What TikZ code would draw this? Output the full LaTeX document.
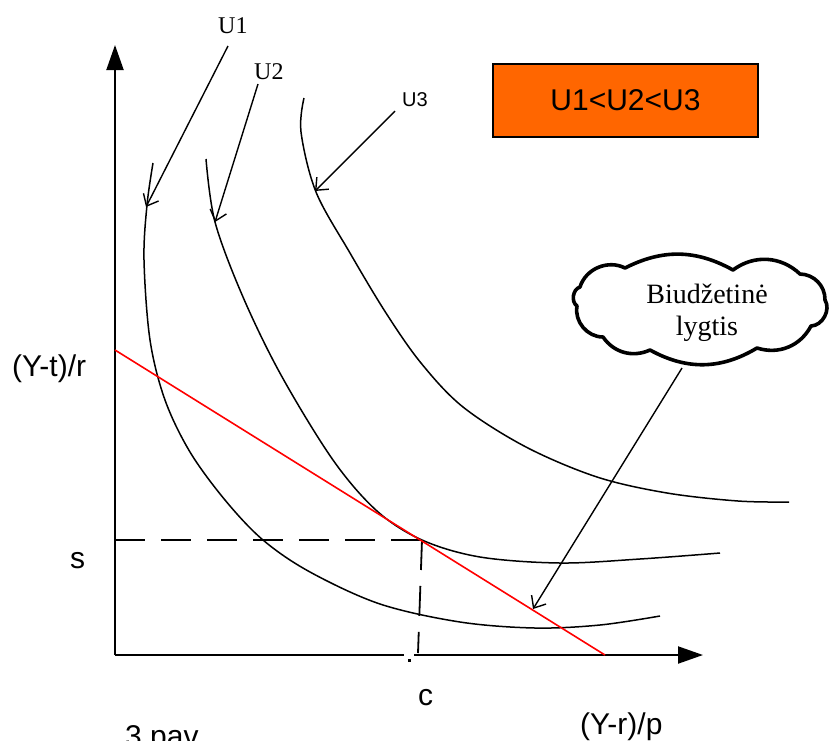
\documentclass[tikz,border=0pt]{standalone}
\usepackage{fontspec}
\setmainfont{Liberation Serif}
\newfontfamily\arialf{Liberation Sans}
\usetikzlibrary{arrows.meta}
\definecolor{boxorange}{HTML}{FF6600}
\begin{document}
\begin{tikzpicture}[x=1pt,y=-1pt,
  curve/.style={line width=1.5pt, black},
  axisline/.style={line width=2pt, black},
  axistip/.style={-{Triangle[length=25pt,width=17pt]}},
  guide/.style={line width=1.8pt, dash pattern=on 30pt off 16pt},
  budget/.style={line width=1.6pt, red},
  pointer/.style={line width=1.4pt, -{Straight Barb[length=10pt,width=17pt]}},
  sanslbl/.style={font=\arialf\fontsize{30}{36}\selectfont, inner sep=0pt},
  seriflbl/.style={font=\fontsize{24}{28}\selectfont, inner sep=0pt},
  smalllbl/.style={font=\arialf\fontsize{20}{24}\selectfont, inner sep=0pt},
  cloudlbl/.style={font=\fontsize{28}{32}\selectfont, inner sep=0pt, align=center},
  orderbox/.style={draw=black, line width=1.5pt, fill=boxorange, inner sep=0pt,
    font=\arialf\fontsize{30}{36}\selectfont},
  cloudline/.style={draw=black, line width=3.6pt, fill=white, line join=round}
]
\useasboundingbox (0,0) rectangle (832,740);
\clip (0,0) rectangle (832,740);

% axes
\coordinate (O) at (115,655);
\coordinate (ytip) at (115,45);
\coordinate (xgapL) at (404,655);
\coordinate (xgapR) at (414,655);
\coordinate (xtip) at (703,655);
\draw[axisline,axistip] (O) -- (ytip);
\draw[axisline] (O) -- (xgapL);
\draw[axisline,axistip] (xgapR) -- (xtip);
\fill (408,659) rectangle (411,662);

% guide lines
\coordinate (sY) at (115,540);
\coordinate (E) at (422,540);
\coordinate (cX) at (418,653);
\draw[guide] (sY) -- (E);
\draw[guide] (E) -- (cX);

% indifference curves
\draw[curve] plot[smooth, tension=0.55] coordinates {(153,163) (147,205) (144,260) (150,340) (165,400) (190,452) (225,500) (263,540) (310,572) (380,604) (460,622) (535,628) (600,625) (660,616)};
\draw[curve] plot[smooth, tension=0.55] coordinates {(206,159) (215,222) (243,297) (281,375) (333,460) (377,511) (422,540) (480,557) (560,563) (640,559) (720,553)};
\draw[curve] plot[smooth, tension=0.55] coordinates {(304,98) (301,132) (316,192) (350,253) (386,313) (421,363) (463,407) (526,447) (597,477) (667,493) (738,501) (789,502)};

% budget line
\coordinate (bA) at (115,350);
\coordinate (bB) at (605,655);
\draw[budget] (bA) -- (bB);

% curve labels and pointers
\node[seriflbl, anchor=base west] (u1lbl) at (218,33) {U1};
\node[seriflbl, anchor=base west] (u2lbl) at (254,79) {U2};
\node[smalllbl, anchor=base west] (u3lbl) at (402,106) {U3};
\coordinate (u1from) at (228,46);
\coordinate (u1to) at (146,207);
\coordinate (u2from) at (258,84);
\coordinate (u2to) at (215,222);
\coordinate (u3from) at (395,111);
\coordinate (u3to) at (315,191);
\draw[pointer] (u1from) -- (u1to);
\draw[pointer] (u2from) -- (u2to);
\draw[pointer] (u3from) -- (u3to);

% order box
\node[orderbox, minimum width=265pt, minimum height=73pt] (order) at (625.5,100.5) {U1<U2<U3};

% cloud
\coordinate (c1) at (580,287);
\coordinate (c2) at (625,268);
\coordinate (c3) at (733,270);
\coordinate (c4) at (800,274);
\coordinate (c5) at (825,300);
\coordinate (c6) at (811,326);
\coordinate (c7) at (757,348);
\coordinate (c8) at (650,350);
\coordinate (c9) at (603,337);
\coordinate (c10) at (577,306);
\draw[cloudline] (c1) to[bend left=50] (c2) to[bend left=28] (c3) to[bend left=40] (c4)
  to[bend left=45] (c5) to[bend left=60] (c6) to[bend left=40] (c7) to[bend left=30] (c8)
  to[bend left=40] (c9) to[bend left=50] (c10) to[bend left=65] cycle;
\node[cloudlbl] (cloudtext) at (707,312.5) {Biudžetinė\\lygtis};
\coordinate (cloudfoot) at (682,368);
\coordinate (budgetpt) at (533,609);
\draw[pointer] (cloudfoot) -- (budgetpt);

% axis labels
\node[sanslbl, anchor=base west] (ylbl) at (12,376) {(Y-t)/r};
\node[sanslbl, anchor=base west] (slbl) at (70,568) {s};
\node[sanslbl, anchor=base west] (clbl) at (418,705) {c};
\node[sanslbl, anchor=base west] (xlbl) at (580,734) {(Y-r)/p};
\node[sanslbl, anchor=base west] (caption) at (125,746.5) {3 pav.};
\end{tikzpicture}
\end{document}
